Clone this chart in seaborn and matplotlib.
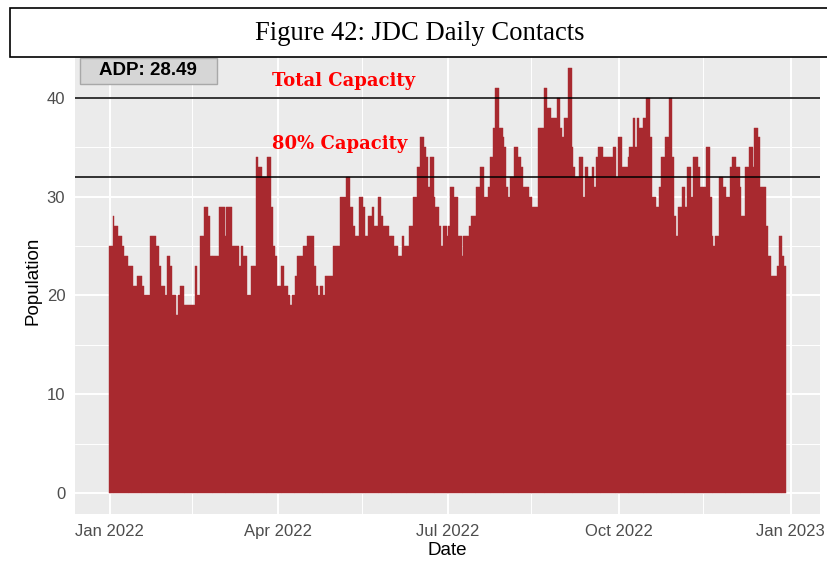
import matplotlib
matplotlib.use("Agg")
import matplotlib.pyplot as plt
import matplotlib.dates as mdates
from matplotlib.patches import Rectangle
import seaborn as sns
import pandas as pd

# daily population, Jan 1 2022 onwards
jan = [25, 25, 28, 27, 27, 26, 26, 25, 24, 24, 23, 23, 23, 21, 21, 22, 22, 22, 21, 20,
       20, 20, 26, 26, 26, 25, 25, 23, 21, 21, 20]
feb = [24, 24, 23, 20, 20, 18, 20, 21, 21, 19, 19, 19, 19, 19, 19, 23, 20, 20, 26, 26,
       29, 29, 28, 24, 24, 24, 24, 24]
mar = [29, 29, 29, 26, 29, 29, 29, 25, 25, 25, 25, 23, 25, 24, 24, 20, 20, 23, 23, 23,
       34, 33, 33, 32, 32, 32, 34, 34, 29, 25, 24]
apr = [21, 21, 23, 23, 21, 21, 20, 19, 20, 20, 22, 24, 24, 24, 25, 25, 26, 26, 26, 26,
       23, 21, 20, 21, 21, 20, 22, 22, 22, 22]
may = [25, 25, 25, 25, 30, 30, 30, 32, 32, 29, 29, 27, 26, 26, 30, 30, 29, 26, 26, 28,
       28, 29, 27, 27, 30, 30, 28, 27, 27, 27, 26]
jun = [26, 26, 25, 25, 24, 24, 26, 25, 25, 25, 27, 27, 30, 30, 33, 33, 36, 36, 35, 34,
       31, 34, 34, 30, 29, 29, 27, 25, 27, 27]
jul = [26, 27, 31, 31, 30, 30, 26, 26, 24, 26, 26, 26, 27, 28, 28, 28, 31, 31, 33, 33,
       30, 30, 31, 34, 34, 37, 41, 41, 37, 37, 36]
aug = [35, 31, 30, 32, 32, 35, 35, 34, 34, 33, 31, 31, 31, 30, 30, 29, 29, 29, 37, 37,
       37, 41, 41, 39, 39, 38, 38, 38, 40, 40, 37]
sep = [36, 38, 38, 43, 43, 35, 33, 32, 32, 34, 34, 30, 33, 33, 32, 32, 33, 31, 34, 35,
       35, 35, 34, 34, 34, 34, 34, 35, 35, 32]
oct_ = [36, 36, 33, 33, 33, 34, 35, 35, 38, 35, 38, 37, 37, 38, 38, 40, 40, 36, 30, 30,
        29, 29, 31, 34, 34, 36, 36, 40, 40, 34, 28]
nov = [26, 29, 29, 31, 31, 29, 33, 33, 30, 34, 34, 34, 33, 31, 31, 31, 35, 35, 30, 26,
       25, 26, 26, 32, 32, 31, 31, 30, 30, 33]
dec = [34, 34, 33, 33, 31, 28, 28, 33, 33, 35, 35, 33, 37, 37, 36, 31, 31, 31, 27, 24,
       24, 22, 22, 22, 23, 26, 26, 24, 23]

population = jan + feb + mar + apr + may + jun + jul + aug + sep + oct_ + nov + dec
start_date = "2022-01-01"
total_capacity = 40
capacity_80 = 32
adp_label = "ADP: 28.49"
title = "Figure 42: JDC Daily Contacts"
x_ticks = ["2022-01-01", "2022-04-01", "2022-07-01", "2022-10-01", "2023-01-01"]
x_minor = ["2022-02-14", "2022-05-16", "2022-08-15", "2022-11-15"]

bar_color = "#A8292F"

dates = pd.date_range(start_date, periods=len(population), freq="D")
df = pd.DataFrame({"day": mdates.date2num(dates), "population": population})

sns.set_theme(style="darkgrid", rc={"axes.facecolor": "#EBEBEB", "grid.color": "white"})
plt.rcParams["font.family"] = ["Liberation Sans", "DejaVu Sans"]

fig = plt.figure(figsize=(8.28, 5.71), dpi=100)
ax = fig.add_axes([0.0906, 0.0994, 0.8998, 0.8181])

sns.histplot(data=df, x="day", weights="population", discrete=True, color=bar_color,
             alpha=1, edgecolor=bar_color, linewidth=0.3, ax=ax)

ax.axhline(total_capacity, color="black", lw=1.1)
ax.axhline(capacity_80, color="black", lw=1.1)

d0 = df["day"].iloc[0]
ax.set_xlim(d0 - 18.65, d0 + len(population) + 17.65)
ax.set_ylim(-2.15, 45.15)

ax.set_xticks(mdates.date2num(pd.to_datetime(x_ticks)))
ax.xaxis.set_major_formatter(mdates.DateFormatter("%b %Y"))
ax.set_xticks(mdates.date2num(pd.to_datetime(x_minor)), minor=True)
ax.set_yticks([0, 10, 20, 30, 40])
ax.set_yticks([5, 15, 25, 35], minor=True)
ax.grid(which="major", color="white", lw=1.4)
ax.grid(which="minor", color="white", lw=0.7)
ax.tick_params(which="major", length=4, width=1, color="#333333",
               labelcolor="#4D4D4D", labelsize=12, pad=3)
ax.tick_params(which="minor", length=0)
for s in ax.spines.values():
    s.set_visible(False)

ax.set_xlabel("Date", fontsize=13.5, color="black", labelpad=2)
ax.set_ylabel("Population", fontsize=13.5, color="black", labelpad=4)

# annotations
ax.text(d0 + 87, 41.7, "Total Capacity", color="red", fontsize=13, fontweight="bold",
        family="DejaVu Serif", ha="left", va="center")
ax.text(d0 + 87, 35.3, "80% Capacity", color="red", fontsize=13, fontweight="bold",
        family="DejaVu Serif", ha="left", va="center")
ax.add_patch(Rectangle((d0 - 16.1, 41.4), 73.4, 2.65, fc="#D6D6D6", ec="#A8A8A8",
                       lw=1, zorder=5))
ax.text(d0 + 20.6, 42.75, adp_label, fontsize=13.5, fontweight="bold", color="black",
        ha="center", va="center", zorder=6)

# title box
fig.add_artist(Rectangle((0.0121, 0.9002), 1.0, 0.0858, transform=fig.transFigure,
                         fc="white", ec="black", lw=1.2, zorder=10))
fig.text(0.507, 0.942, title, family="Liberation Serif", fontsize=19.2, color="black",
         ha="center", va="center", zorder=11)

fig.savefig("out.png", dpi=100)
